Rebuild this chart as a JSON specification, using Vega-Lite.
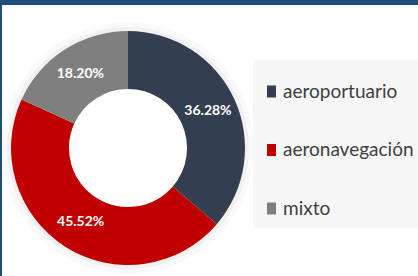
{
  "$schema": "https://vega.github.io/schema/vega-lite/v6.json",
  "background": "#1F4E79",
  "padding": {"top": 5, "left": 2, "right": 0, "bottom": 0},
  "spacing": -1,
  "config": {
    "view": {"fill": "#FFFFFF", "stroke": null},
    "font": "Lato"
  },
  "data": {
    "values": [
      {"categoria": "aeroportuario", "porcentaje": 0.3628},
      {"categoria": "aeronavegación", "porcentaje": 0.4552},
      {"categoria": "mixto", "porcentaje": 0.1820}
    ]
  },
  "hconcat": [
    {
      "width": 252,
      "height": 286,
      "view": {"fill": "#FFFFFF", "stroke": null},
      "layer": [
        {
          "mark": {"type": "arc", "innerRadius": 117, "outerRadius": 121, "fill": "#000000", "opacity": 0.035},
          "encoding": {
            "theta": {"field": "porcentaje", "type": "quantitative", "stack": true, "scale": {"range": [-1.14354, 5.13965]}},
            "order": {"field": "categoria", "sort": "descending"}
          }
        },
        {
          "mark": {"type": "arc", "innerRadius": 117, "outerRadius": 126, "fill": "#000000", "opacity": 0.018},
          "encoding": {
            "theta": {"field": "porcentaje", "type": "quantitative", "stack": true},
            "order": {"field": "categoria", "sort": "descending"}
          }
        },
        {
          "mark": {"type": "arc", "innerRadius": 59, "outerRadius": 117},
          "encoding": {
            "theta": {"field": "porcentaje", "type": "quantitative", "stack": true},
            "order": {"field": "categoria", "sort": "descending"},
            "color": {
              "field": "categoria",
              "type": "nominal",
              "sort": ["aeroportuario", "aeronavegación", "mixto"],
              "scale": {"domain": ["aeroportuario", "aeronavegación", "mixto"], "range": ["#333F50", "#C00000", "#7F7F7F"]},
              "legend": {
                "title": " ",
                "titleFontSize": 8,
                "titlePadding": 5,
                "orient": "none",
                "legendX": 251,
                "legendY": 55,
                "fillColor": "#F7F7F7",
                "padding": 9,
                "labelFontSize": 19,
                "labelColor": "#404040",
                "labelFont": "Lato",
                "symbolType": "M-0.75,-1H0.75V1H-0.75Z",
                "symbolSize": 144,
                "symbolStrokeWidth": 0,
                "labelOffset": 2,
                "rowPadding": 38.5,
                "labelLimit": 400
              }
            }
          }
        },
        {
          "mark": {"type": "text", "radius": 88, "fill": "#FFFFFF", "fontWeight": "bold", "fontSize": 14, "font": "Lato"},
          "encoding": {
            "theta": {"field": "porcentaje", "type": "quantitative", "stack": true},
            "order": {"field": "categoria", "sort": "descending"},
            "text": {"field": "porcentaje", "type": "quantitative", "format": ".2%"}
          }
        }
      ]
    },
    {
      "width": 166,
      "height": 286,
      "view": {"fill": "#FFFFFF", "stroke": null},
      "data": {"values": []},
      "mark": {"type": "point"},
      "encoding": {}
    }
  ]
}
